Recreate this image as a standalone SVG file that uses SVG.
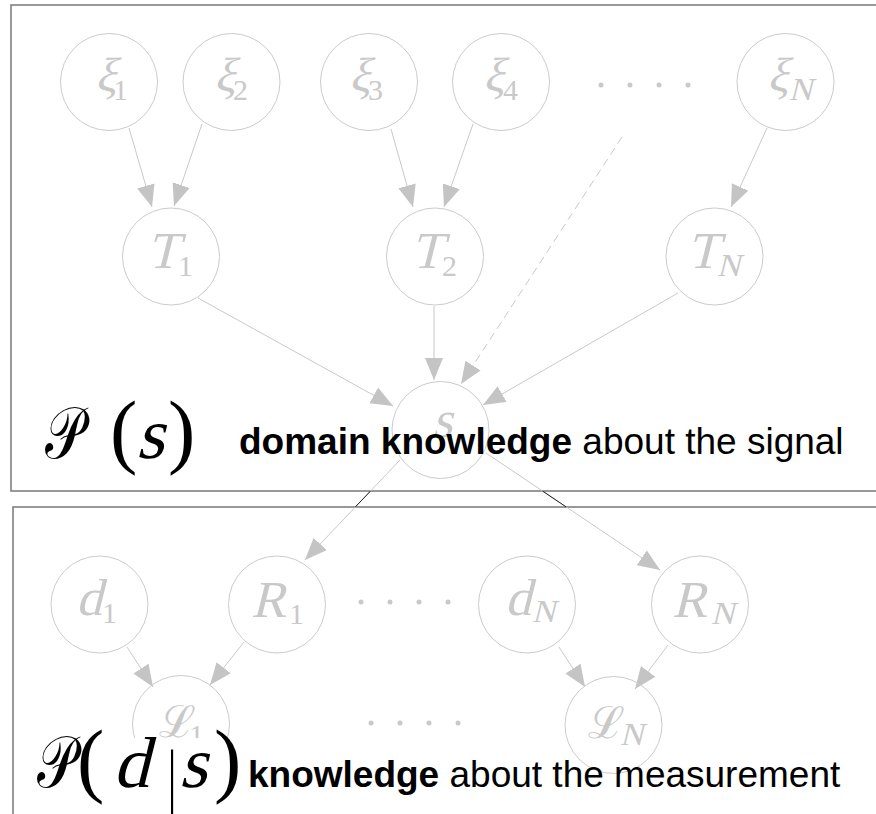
<svg xmlns="http://www.w3.org/2000/svg" width="876" height="814" viewBox="0 0 876 814">
  <style>
    .frame { fill: none; stroke: #777; stroke-width: 1.5; }
    .node circle { fill: none; stroke: #cbcbcb; stroke-width: 1; }
    .node text { font-family: "Liberation Serif", "DejaVu Serif", serif; fill: #c9c9c9; }
    .m { font-size: 52px; }
    .xi { font-size: 48px; }
    .n { font-size: 30px; }
    .ni { font-size: 32px; }
    .node text.scr { font-family: "DejaVu Serif", serif; font-size: 44px; }
    .edge { stroke: #c9c9c9; stroke-width: 1; fill: none; marker-end: url(#head); }
    .dash { stroke-dasharray: 8 5; }
    .link { stroke: #222; stroke-width: 1; }
    .dot { fill: #c9c9c9; }
    .fml { font-family: "Liberation Serif", "DejaVu Serif", serif; font-size: 72px; fill: #000; }
    .par { font-size: 82px; }
    .caption { font-family: "Liberation Sans", Arial, sans-serif; font-size: 37px; fill: #000; }
    .caption .b { font-weight: bold; }
  </style>
  <defs>
    <marker id="head" markerUnits="userSpaceOnUse" markerWidth="24" markerHeight="20" refX="22" refY="9" orient="auto">
      <path d="M0,0 L22,9 L0,18 Z" fill="#c4c4c4"/>
    </marker>
  </defs>

  <rect width="876" height="814" fill="#fff"/>

  <!-- panels -->
  <rect class="frame" x="11" y="5" width="880" height="486"/>
  <path class="frame" d="M13,814 V507 H880"/>

  <!-- connectors -->
  <g id="edges">
    <line class="edge" x1="129" y1="128" x2="152" y2="207"/>
    <line class="edge" x1="202" y1="124" x2="174" y2="206"/>
    <line class="edge" x1="391" y1="129" x2="413" y2="207"/>
    <line class="edge" x1="473" y1="124" x2="444" y2="207"/>
    <line class="edge" x1="767" y1="128" x2="731" y2="207"/>
    <line class="edge dash" x1="622" y1="137" x2="461" y2="384"/>
    <line class="edge" x1="198" y1="298" x2="393" y2="406"/>
    <line class="edge" x1="434" y1="306" x2="434" y2="380"/>
    <line class="edge" x1="678" y1="293" x2="483" y2="405"/>
    <line class="edge" x1="400" y1="460" x2="305" y2="560"/>
    <line class="edge" x1="486" y1="453" x2="660" y2="570"/>
    <line class="edge" x1="127" y1="647" x2="153" y2="687"/>
    <line class="edge" x1="244" y1="642" x2="210" y2="685"/>
    <line class="edge" x1="559" y1="647" x2="585" y2="687"/>
    <line class="edge" x1="668" y1="645" x2="635" y2="689"/>
    <!-- where the two links leave the signal panel -->
    <line class="link" x1="370.5" y1="491" x2="355.3" y2="507"/>
    <line class="link" x1="542.5" y1="491" x2="566.3" y2="507"/>
  </g>

  <!-- signal prior nodes (italic letters are slanted upright serif glyphs) -->
  <g id="xi1" class="node"><circle cx="109" cy="82" r="48.5"/>
    <text class="xi" transform="translate(95 91) skewX(-14)">ξ</text><text class="n" x="113" y="100">1</text></g>
  <g id="xi2" class="node"><circle cx="231.5" cy="82" r="48.5"/>
    <text class="xi" transform="translate(214 91) skewX(-14)">ξ</text><text class="n" x="233" y="100">2</text></g>
  <g id="xi3" class="node"><circle cx="369" cy="82" r="48.5"/>
    <text class="xi" transform="translate(349 91) skewX(-14)">ξ</text><text class="n" x="368" y="100">3</text></g>
  <g id="xi4" class="node"><circle cx="501" cy="82" r="48.5"/>
    <text class="xi" transform="translate(483 91) skewX(-14)">ξ</text><text class="n" x="503" y="100">4</text></g>
  <g id="xiN" class="node"><circle cx="785.5" cy="82" r="48.5"/>
    <text class="xi" transform="translate(767 91) skewX(-14)">ξ</text><text class="ni" transform="translate(789 100) skewX(-14)">N</text></g>
  <g id="dots-xi">
    <circle class="dot" cx="601" cy="85" r="2.5"/><circle class="dot" cx="630" cy="85" r="2.5"/>
    <circle class="dot" cx="659" cy="85" r="2.5"/><circle class="dot" cx="688" cy="85" r="2.5"/>
  </g>

  <g id="T1" class="node"><circle cx="171" cy="256.5" r="48.5"/>
    <text class="m" transform="translate(147 268) skewX(-14)">T</text><text class="n" x="178" y="276">1</text></g>
  <g id="T2" class="node"><circle cx="435" cy="256.5" r="48.5"/>
    <text class="m" transform="translate(411 268) skewX(-14)">T</text><text class="n" x="442" y="276">2</text></g>
  <g id="TN" class="node"><circle cx="714.5" cy="256.5" r="48.5"/>
    <text class="m" transform="translate(687 268) skewX(-14)">T</text><text class="ni" transform="translate(717 276) skewX(-14)">N</text></g>

  <g id="s" class="node"><circle cx="440.5" cy="430" r="48.5"/>
    <text class="m" transform="translate(432 437) skewX(-14)">s</text></g>

  <!-- measurement nodes -->
  <g id="d1" class="node"><circle cx="99.5" cy="604.5" r="48.5"/>
    <text class="m" transform="translate(76 615) skewX(-14)">d</text><text class="n" x="102" y="623">1</text></g>
  <g id="R1" class="node"><circle cx="277" cy="604.5" r="48.5"/>
    <text class="m" transform="translate(251 617) skewX(-14)">R</text><text class="n" x="289" y="624">1</text></g>
  <g id="dN" class="node"><circle cx="527" cy="604.5" r="48.5"/>
    <text class="m" transform="translate(505 615) skewX(-14)">d</text><text class="ni" transform="translate(532 622) skewX(-14)">N</text></g>
  <g id="RN" class="node"><circle cx="700" cy="604.5" r="48.5"/>
    <text class="m" transform="translate(672 617) skewX(-14)">R</text><text class="ni" transform="translate(711 624) skewX(-14)">N</text></g>
  <g id="dots-d">
    <circle class="dot" cx="361" cy="602" r="2.5"/><circle class="dot" cx="390" cy="602" r="2.5"/>
    <circle class="dot" cx="419" cy="602" r="2.5"/><circle class="dot" cx="448" cy="602" r="2.5"/>
  </g>
  <g id="L1" class="node"><circle cx="181" cy="724" r="48.5"/>
    <text class="scr" x="159" y="737">ℒ</text><text class="n" x="189" y="745">1</text></g>
  <g id="LN" class="node"><circle cx="613.5" cy="725" r="48.5"/>
    <text class="scr" x="588" y="738">ℒ</text><text class="ni" transform="translate(620 745) skewX(-14)">N</text></g>
  <g id="dots-L">
    <circle class="dot" cx="371" cy="723" r="2.5"/><circle class="dot" cx="400" cy="723" r="2.5"/>
    <circle class="dot" cx="429" cy="723" r="2.5"/><circle class="dot" cx="458" cy="723" r="2.5"/>
  </g>

  <!-- prior label -->
  <g id="prior-label">
    <text class="fml" text-anchor="middle" font-size="76" transform="translate(65 458) scale(0.75 1)">𝒫</text>
    <text class="fml par" x="110" y="458">(</text>
    <text class="fml" transform="translate(136 458) skewX(-14)">s</text>
    <text class="fml par" x="168" y="458">)</text>
    <text class="caption" x="239" y="454"><tspan class="b">domain knowledge</tspan> about the signal</text>
  </g>

  <!-- likelihood label -->
  <g id="likelihood-label">
    <rect x="34" y="738" width="212" height="76" fill="#fff"/>
    <text class="fml" text-anchor="middle" font-size="76" transform="translate(57 787) scale(0.75 1)">𝒫</text>
    <text class="fml par" x="77" y="787">(</text>
    <text class="fml" transform="translate(113 787) skewX(-14)">d</text>
    <text class="fml" text-anchor="middle" font-size="90" transform="translate(172 800) scale(0.6 1)">|</text>
    <text class="fml" transform="translate(179 787) skewX(-14)">s</text>
    <text class="fml par" x="214" y="787">)</text>
    <text class="caption" x="248" y="787"><tspan class="b">knowledge</tspan> about the measurement</text>
  </g>
</svg>
